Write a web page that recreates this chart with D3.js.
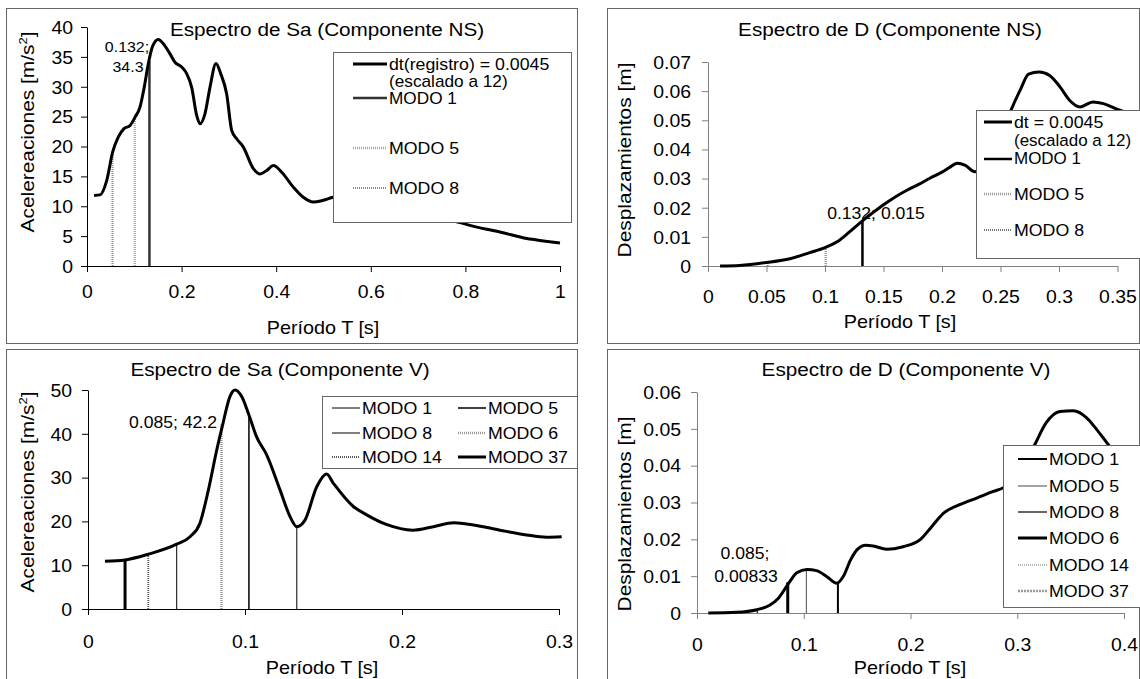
<!DOCTYPE html>
<html><head><meta charset="utf-8">
<script src="https://cdn.jsdelivr.net/npm/d3@7"></script>
<style>
html,body{margin:0;padding:0;background:#fff}
svg{display:block}
text{font-family:"Liberation Sans",Arial,sans-serif;fill:#000}
</style>
</head><body>
<svg id="c" width="1140" height="679"></svg>
<script>
// ---------------- DATA ----------------
// Panel 1: Espectro de Sa (Componente NS)
const saNS_T = [0.015,0.0275,0.0416,0.0543,0.0663,0.0782,0.0909,0.1015,0.112,0.1205,0.1297,0.1388,0.1508,0.1614,0.1755,0.186,0.2002,0.2107,0.2213,0.2319,0.2389,0.2495,0.26,0.2727,0.2826,0.2953,0.3059,0.3164,0.3305,0.3517,0.3658,0.3799,0.394,0.4116,0.4362,0.4573,0.4785,0.4996,0.5207,0.56,0.6,0.65,0.7,0.75,0.7815,0.824,0.873,0.93,0.965,1.0];
const saNS_A = [11.8,11.9,14.3,19.1,21.6,23.0,23.5,24.9,26.6,29.7,33.9,36.8,37.9,37.2,35.5,34.1,33.3,32.2,29.9,25.2,23.8,25.5,29.9,33.9,32.2,28.8,22.7,21.3,19.9,16.3,15.4,16.0,16.8,15.7,13.2,11.5,10.7,11.0,11.5,11.8,11.0,9.8,8.8,7.9,7.4,6.5,5.7,4.6,4.2,3.85];
const saNS_modes = ["MODO 1","MODO 5","MODO 8"];
const saNS_modeT = [0.132,0.101,0.054];
const saNS_modeA = [34.3,24.9,19.1];

// Panel 2: Espectro de D (Componente NS)
const dNS_T = [0.0103,0.027,0.05,0.07,0.087,0.1,0.11,0.121,0.132,0.14,0.15,0.16,0.17,0.18,0.19,0.2,0.206,0.213,0.22,0.228,0.238,0.248,0.259,0.267,0.274,0.283,0.292,0.301,0.309,0.318,0.329,0.338,0.35,0.355];
const dNS_D = [0,0.0002,0.0012,0.0025,0.0046,0.0063,0.0082,0.0117,0.0155,0.018,0.021,0.0237,0.026,0.028,0.0302,0.0322,0.0337,0.0353,0.0345,0.0323,0.033,0.042,0.0535,0.0605,0.0658,0.0666,0.0654,0.0614,0.0569,0.0546,0.0563,0.0557,0.0537,0.053];
const dNS_modes = ["MODO 1","MODO 5","MODO 8"];
const dNS_modeT = [0.132,0.1006,0.051];
const dNS_modeD = [0.0155,0.0065,0.0013];

// Panel 3: Espectro de Sa (Componente V)
const saV_T = [0.0108,0.0236,0.0384,0.0565,0.065,0.0713,0.0767,0.082,0.0856,0.0904,0.0936,0.0979,0.1025,0.1074,0.1138,0.1223,0.1287,0.133,0.1382,0.1457,0.152,0.1563,0.169,0.1775,0.19,0.207,0.22,0.233,0.2455,0.2624,0.2794,0.292,0.3017];
const saV_A = [10.9,11.2,12.5,14.8,16.5,19.6,27.2,36.3,41.8,48.5,50,48.5,44.3,39.3,35.2,27.2,21.1,18.8,20.3,27.9,30.8,28.7,23.4,21.5,19.3,18.0,18.8,19.7,19.2,18.0,16.9,16.4,16.5];
const saV_modes = ["MODO 1","MODO 5","MODO 8","MODO 6","MODO 14","MODO 37"];
const saV_modeT = [0.133,0.1025,0.0565,0.085,0.0384,0.0236];
const saV_modeA = [18.8,44.3,14.8,42.2,12.5,11.2];

// Panel 4: Espectro de D (Componente V)
const dV_T = [0.0106,0.037,0.056,0.068,0.0765,0.0864,0.0935,0.103,0.112,0.122,0.131,0.137,0.144,0.15,0.158,0.165,0.1777,0.193,0.209,0.22,0.231,0.246,0.262,0.2775,0.287,0.3,0.31,0.3166,0.327,0.34,0.3525,0.365,0.3745,0.384,0.39];
const dV_D = [0,0.0002,0.0009,0.0021,0.0041,0.0083,0.0109,0.0118,0.0115,0.0098,0.0081,0.0099,0.0145,0.0172,0.0184,0.0182,0.0173,0.018,0.0199,0.0235,0.0271,0.0294,0.0312,0.033,0.034,0.037,0.042,0.0458,0.0516,0.0547,0.0549,0.053,0.0498,0.0462,0.044];
const dV_modes = ["MODO 1","MODO 5","MODO 8","MODO 6","MODO 14","MODO 37"];
const dV_modeT = [0.132,0.1025,0.0565,0.085,0.0384,0.0236];
const dV_modeD = [0.0081,0.0118,0.0009,0.00833,0.0002,0.0001];

// Tick values
const ticksX1 = [0,0.2,0.4,0.6,0.8,1];
const ticksY1 = [0,5,10,15,20,25,30,35,40];
const ticksX2 = [0,0.05,0.1,0.15,0.2,0.25,0.3,0.35];
const ticksY2 = [0,0.01,0.02,0.03,0.04,0.05,0.06,0.07];
const ticksX3 = [0,0.1,0.2,0.3];
const ticksY3 = [0,10,20,30,40,50];
const ticksX4 = [0,0.1,0.2,0.3,0.4];
const ticksY4 = [0,0.01,0.02,0.03,0.04,0.05,0.06];

// ---------------- DRAWING ----------------
const svg = d3.select("#c");
svg.append("rect").attr("width",1140).attr("height",679).attr("fill","#fff");

function addText(parent, x, y, str, o) {
  const sx = o.sx ?? 1.1;
  const t = parent.append("text")
    .attr("transform", `translate(${x},${y})${o.rot ? " rotate(-90)" : ""} scale(${sx},1)`)
    .attr("text-anchor", o.anchor || "middle")
    .attr("dy", "0.35em")
    .style("font-size", o.size + "px");
  if (o.sup) {
    t.append("tspan").text(o.sup[0]);
    t.append("tspan").attr("dy", -o.size*0.4).style("font-size", (o.size*0.62)+"px").text(o.sup[1]);
    t.append("tspan").attr("dy", o.size*0.4).text(o.sup[2]);
  } else t.text(str);
  return t;
}
const fmt = d => d === 0 ? "0" : d3.format("~g")(d);

function panel(c) {
  const g = svg.append("g");
  g.append("rect").attr("x", c.frame[0]+0.5).attr("y", c.frame[1]+0.5)
    .attr("width", c.frame[2]-c.frame[0]).attr("height", c.frame[3]-c.frame[1])
    .attr("fill","#fff").attr("stroke","#666").attr("stroke-width",1);

  const x = d3.scaleLinear().domain(c.xDomain).range(c.xRange);
  const y = d3.scaleLinear().domain(c.yDomain).range(c.yRange);

  const gx = g.append("g").attr("transform", `translate(0,${c.yRange[0]})`)
    .call(d3.axisBottom(x).tickValues(c.xTicks).tickSize(6).tickSizeOuter(0));
  gx.selectAll(".tick text").remove();
  gx.selectAll("path,line").attr("stroke", c.axisColor);
  gx.selectAll(".tick").each(function(d){ addText(d3.select(this), 0, c.xLabelOff, fmt(d), {size:18, sx:1.08}); });

  const gy = g.append("g").attr("transform", `translate(${c.xRange[0]},0)`)
    .call(d3.axisLeft(y).tickValues(c.yTicks).tickSize(6).tickSizeOuter(0));
  gy.selectAll(".tick text").remove();
  gy.selectAll("path,line").attr("stroke", c.axisColor);
  gy.selectAll(".tick").each(function(d){ addText(d3.select(this), -c.yLabelGap, 0, fmt(d), {size:18, sx:1.08, anchor:"end"}); });

  // mode lines
  c.modes.forEach((m, i) => {
    const st = c.styles[m];
    g.append("line").attr("x1", x(c.modeT[i])).attr("x2", x(c.modeT[i]))
      .attr("y1", y(0)).attr("y2", y(c.modeV[i]))
      .attr("stroke", st.color).attr("stroke-width", st.w)
      .attr("stroke-dasharray", st.dash || null);
  });

  // curve
  const pts = c.T.map((t, i) => [t, c.V[i]]);
  g.append("path").datum(pts)
    .attr("d", d3.line().x(d => x(d[0])).y(d => y(d[1])).curve(d3.curveMonotoneX))
    .attr("fill","none").attr("stroke","#000").attr("stroke-width",3).attr("stroke-linejoin","round");

  // annotations
  c.notes.forEach(n => addText(g, n.x, n.y, n.text, {size:n.size, sx:1.1, anchor:n.anchor||"middle"}));

  // legend
  const L = c.legend;
  g.append("rect").attr("x", L.box[0]+0.5).attr("y", L.box[1]+0.5).attr("width", L.box[2]).attr("height", L.box[3])
    .attr("fill","#fff").attr("stroke","#666").attr("stroke-width",1);
  L.items.forEach(it => {
    const st = it.style;
    if (st) g.append("line").attr("x1", it.x).attr("x2", it.x + L.sample).attr("y1", it.y).attr("y2", it.y)
      .attr("stroke", st.color).attr("stroke-width", st.w).attr("stroke-dasharray", st.dash || null);
    addText(g, it.x + L.sample + 2, it.y, it.text, {size:it.size || 16.3, sx:1.09, anchor:"start"});
  });

  // titles
  addText(g, c.title[1], c.title[2], c.title[0], {size:18.5, sx:1.12});
  addText(g, c.xTitle[1], c.xTitle[2], c.xTitle[0], {size:18, sx:1.1});
  addText(g, c.yTitle.x, c.yTitle.y, "", {size:18, sx:1.16, rot:true, sup:c.yTitle.parts});
}

const curveStyle = {color:"#000", w:3};

// Panel 1
const st1 = {
  "MODO 1": {color:"#333", w:2.5},
  "MODO 5": {color:"#aaa", w:2.5, dash:"1,1"},
  "MODO 8": {color:"#888", w:2, dash:"1,1"}
};
panel({
  frame:[6,8,577,343], xDomain:[0,1], xRange:[87,560], yDomain:[0,40], yRange:[266,27],
  xTicks:ticksX1, yTicks:ticksY1, axisColor:"#000", yLabelGap:14, xLabelOff:26,
  T:saNS_T, V:saNS_A, modes:saNS_modes, modeT:saNS_modeT, modeV:saNS_modeA, styles:st1,
  notes:[{text:"0.132;", x:127, y:47, size:14.5},{text:"34.3", x:128, y:67, size:14.5}],
  legend:{box:[333,52,238,170], sample:34, items:[
    {x:353, y:64, text:"dt(registro) = 0.0045", style:curveStyle},
    {x:353, y:81, text:"(escalado a 12)", size:15.8},
    {x:353, y:98, text:saNS_modes[0], style:st1[saNS_modes[0]], size:15.8},
    {x:353, y:148, text:saNS_modes[1], style:st1[saNS_modes[1]]},
    {x:353, y:188, text:saNS_modes[2], style:st1[saNS_modes[2]]}]},
  title:["Espectro de Sa (Componente NS)", 327, 30],
  xTitle:["Período T [s]", 323, 328],
  yTitle:{x:28, y:132, parts:["Acelereaciones [m/s","2","]"]}
});

// Panel 2
const st2 = {
  "MODO 1": {color:"#000", w:2.5},
  "MODO 5": {color:"#999", w:2.5, dash:"1,1"},
  "MODO 8": {color:"#777", w:2, dash:"1,1"}
};
panel({
  frame:[607,8,1139,343], xDomain:[0,0.35], xRange:[708,1117.5], yDomain:[0,0.07], yRange:[266,62],
  xTicks:ticksX2, yTicks:ticksY2, axisColor:"#808080", yLabelGap:17, xLabelOff:31,
  T:dNS_T, V:dNS_D, modes:dNS_modes, modeT:dNS_modeT, modeV:dNS_modeD, styles:st2,
  notes:[{text:"0.132; 0.015", x:876, y:213, size:16}],
  legend:{box:[976,110,170,148], sample:28, items:[
    {x:984, y:122, text:"dt = 0.0045", style:curveStyle},
    {x:984, y:141, text:"(escalado a 12)", size:15.6},
    {x:984, y:159, text:dNS_modes[0], style:st2[dNS_modes[0]], size:15.6},
    {x:984, y:194, text:dNS_modes[1], style:st2[dNS_modes[1]]},
    {x:984, y:230, text:dNS_modes[2], style:st2[dNS_modes[2]]}]},
  title:["Espectro de D (Componente NS)", 890, 30],
  xTitle:["Período T [s]", 900, 322],
  yTitle:{x:625, y:160, parts:["Desplazamientos [m]","",""]}
});

// Panel 3
const st3 = {
  "MODO 1": {color:"#000", w:1},
  "MODO 5": {color:"#000", w:1.5},
  "MODO 8": {color:"#000", w:1},
  "MODO 6": {color:"#999", w:2.5, dash:"1,1"},
  "MODO 14": {color:"#555", w:1.8, dash:"1,1"},
  "MODO 37": {color:"#000", w:3}
};
const lg3 = [[332,408],[458,408],[332,433],[458,433],[332,457],[458,457]];
panel({
  frame:[6,349,577,690], xDomain:[0,0.3], xRange:[88,559], yDomain:[0,50], yRange:[609,390],
  xTicks:ticksX3, yTicks:ticksY3, axisColor:"#000", yLabelGap:16, xLabelOff:33,
  T:saV_T, V:saV_A, modes:saV_modes, modeT:saV_modeT, modeV:saV_modeA, styles:st3,
  notes:[{text:"0.085; 42.2", x:217, y:422, size:16, anchor:"end"}],
  legend:{box:[322,396,255,72], sample:28, items: saV_modes.map((m,i) => ({x:lg3[i][0], y:lg3[i][1], text:m, style:st3[m]}))},
  title:["Espectro de Sa (Componente V)", 280, 370],
  xTitle:["Período T [s]", 322, 668],
  yTitle:{x:28, y:492, parts:["Acelereaciones [m/s","2","]"]}
});

// Panel 4
const st4 = {
  "MODO 1": {color:"#000", w:2},
  "MODO 5": {color:"#666", w:1.2},
  "MODO 8": {color:"#333", w:1.5},
  "MODO 6": {color:"#000", w:3},
  "MODO 14": {color:"#bbb", w:2, dash:"1,1"},
  "MODO 37": {color:"#999", w:2.5, dash:"2,1"}
};
const lg4 = [459,486,512,538,565,591];
panel({
  frame:[607,349,1139,690], xDomain:[0,0.4], xRange:[697,1124], yDomain:[0,0.06], yRange:[613,392],
  xTicks:ticksX4, yTicks:ticksY4, axisColor:"#808080", yLabelGap:16, xLabelOff:32,
  T:dV_T, V:dV_D, modes:dV_modes, modeT:dV_modeT, modeV:dV_modeD, styles:st4,
  notes:[{text:"0.085;", x:745, y:553, size:16},{text:"0.00833", x:746, y:576, size:16}],
  legend:{box:[1003,445,140,162], sample:29, items: dV_modes.map((m,i) => ({x:1018, y:lg4[i], text:m, style:st4[m]}))},
  title:["Espectro de D (Componente V)", 906, 370],
  xTitle:["Período T [s]", 910, 668],
  yTitle:{x:625, y:514, parts:["Desplazamientos [m]","",""]}
});
</script>
</body></html>
